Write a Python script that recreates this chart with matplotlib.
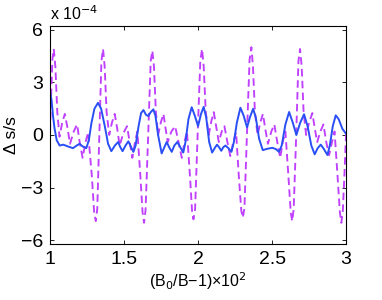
import matplotlib
matplotlib.use("Agg")
import matplotlib.pyplot as plt
import numpy as np

plt.rcParams["font.family"] = ["Liberation Sans", "DejaVu Sans"]

# solid curve (blue), values in units of 1e-4
blue_x = [1.000, 1.010, 1.020, 1.030, 1.045, 1.065, 1.090, 1.120, 1.155, 1.180,
          1.200, 1.220, 1.245, 1.262, 1.280, 1.300, 1.324, 1.345, 1.370, 1.392,
          1.414, 1.438, 1.460, 1.475, 1.490, 1.510, 1.529, 1.548, 1.563, 1.578,
          1.598, 1.615, 1.631, 1.648, 1.664, 1.680, 1.698, 1.712, 1.730, 1.754,
          1.772, 1.788, 1.805, 1.822, 1.840, 1.860, 1.880, 1.900, 1.915, 1.935,
          1.957, 1.978, 2.000, 2.020, 2.038, 2.055, 2.075, 2.095, 2.112, 2.128,
          2.142, 2.157, 2.170, 2.185, 2.205, 2.225, 2.242, 2.262, 2.286, 2.308,
          2.331, 2.350, 2.372, 2.390, 2.412, 2.437, 2.470, 2.502, 2.525, 2.547,
          2.565, 2.590, 2.615, 2.640, 2.664, 2.690, 2.716, 2.740, 2.765, 2.788,
          2.808, 2.829, 2.850, 2.874, 2.890, 2.910, 2.930, 2.950, 2.975, 3.000]
blue_y = [2.50, 2.00, 1.10, 0.40, -0.30, -0.60, -0.55, -0.65, -0.75, -0.60,
          -0.50, -0.65, -0.75, -0.30, 0.70, 1.50, 1.83, 1.50, 0.50, -0.50,
          -0.92, -0.60, -0.40, -0.70, -0.92, -0.60, -0.36, -0.70, -0.96, -0.60,
          0.50, 1.25, 1.42, 1.15, 1.08, 1.30, 1.46, 1.10, 0.00, -1.05,
          -0.70, -0.40, -0.70, -0.96, -0.60, -0.40, -0.70, -1.00, -0.40, 0.90,
          1.58, 1.10, 0.50, 1.20, 1.60, 1.00, -0.40, -1.00, -0.75, -0.55,
          -0.70, -0.90, -0.70, -0.60, -0.75, -0.96, -0.40, 0.70, 1.55, 1.10,
          0.43, 1.00, 1.49, 1.00, -0.20, -0.86, -0.78, -0.73, -0.80, -0.96,
          -0.60, 0.60, 1.31, 0.70, 0.00, 0.70, 1.18, 0.50, -0.60, -1.10,
          -0.75, -0.55, -0.80, -1.14, -0.60, 0.50, 1.12, 0.90, 0.35, 0.07]

# dashed curve (magenta), values in units of 1e-4
mag_x = [1.000, 1.008, 1.016, 1.025, 1.036, 1.049, 1.064, 1.082, 1.100, 1.118,
         1.135, 1.160, 1.183, 1.200, 1.220, 1.240, 1.257, 1.282, 1.298, 1.309,
         1.319, 1.333, 1.347, 1.358, 1.369, 1.382, 1.400, 1.418, 1.437, 1.455,
         1.470, 1.495, 1.520, 1.538, 1.556, 1.574, 1.590, 1.610, 1.625, 1.635,
         1.645, 1.663, 1.680, 1.691, 1.702, 1.715, 1.730, 1.748, 1.766, 1.780,
         1.795, 1.820, 1.845, 1.868, 1.890, 1.908, 1.925, 1.945, 1.960, 1.969,
         1.980, 1.997, 2.015, 2.027, 2.038, 2.052, 2.072, 2.090, 2.106, 2.124,
         2.140, 2.160, 2.178, 2.198, 2.218, 2.238, 2.257, 2.275, 2.292, 2.302,
         2.313, 2.330, 2.348, 2.360, 2.371, 2.384, 2.402, 2.420, 2.438, 2.455,
         2.472, 2.495, 2.515, 2.535, 2.555, 2.572, 2.590, 2.610, 2.626, 2.636,
         2.646, 2.663, 2.678, 2.689, 2.700, 2.713, 2.730, 2.750, 2.772, 2.790,
         2.805, 2.826, 2.847, 2.866, 2.885, 2.905, 2.922, 2.942, 2.958, 2.968,
         2.978, 2.990, 3.000]
mag_y = [0.20, 2.40, 4.30, 4.90, 3.90, 1.30, -0.10, 0.70, 1.20, 0.40,
         -0.50, 0.20, 0.60, -0.40, -1.30, -0.40, 0.15, -2.30, -4.40, -4.90,
         -4.20, 0.00, 4.20, 4.90, 3.90, 1.30, 0.00, 0.70, 1.20, 0.30,
         -0.60, 0.10, 0.50, -0.40, -1.30, -0.40, 0.20, -2.30, -4.40, -5.00,
         -4.30, 0.00, 4.20, 4.80, 3.90, 1.30, 0.00, 0.70, 1.20, 0.40,
         -0.40, 0.20, 0.50, -0.40, -1.30, -0.40, 0.20, -2.30, -4.40, -4.80,
         -4.20, 0.00, 4.20, 4.90, 3.90, 1.30, 0.00, 0.80, 1.30, 0.40,
         -0.40, 0.20, 0.50, -0.40, -1.20, -0.40, 0.15, -2.30, -4.30, -4.70,
         -4.20, 0.00, 4.30, 5.00, 3.90, 1.30, 0.00, 0.70, 1.20, 0.30,
         -0.50, 0.20, 0.60, -0.40, -1.30, -0.40, 0.20, -2.30, -4.40, -4.90,
         -4.20, 0.00, 4.20, 4.90, 3.90, 1.30, 0.00, 0.70, 1.25, 0.30,
         -0.40, 0.20, 0.60, -0.40, -1.15, -0.40, 0.20, -2.30, -4.40, -5.00,
         -4.30, -2.00, 0.10]

x_ticks = [1, 1.5, 2, 2.5, 3]
x_tick_labels = ["1", "1.5", "2", "2.5", "3"]
y_ticks = [-6, -3, 0, 3, 6]
y_tick_labels = ["\u22126", "\u22123", "0", "3", "6"]

fig = plt.figure(figsize=(3.82, 3.0), dpi=100)
ax = fig.add_axes([0.131, 0.187, 0.775, 0.726])

ax.plot(mag_x, mag_y, color="#c040ff", linestyle=(0, (4, 2.3)), linewidth=1.35)
ax.plot(blue_x, blue_y, color="#2a4ff5", linewidth=1.4)

ax.set_xlim(1, 3)
ax.set_ylim(-6.2, 6.2)
ax.set_xticks(x_ticks)
ax.set_xticklabels(x_tick_labels)
ax.set_yticks(y_ticks)
ax.set_yticklabels(y_tick_labels)
ax.tick_params(direction="in", length=3, width=0.6, top=True, right=True,
               labelsize=14, pad=5)
for sp in ax.spines.values():
    sp.set_linewidth(0.8)

ax.set_xlabel("(B$_0$/B\u22121)\u00d710$^2$", fontsize=11.5, labelpad=2)
ax.set_ylabel("\u0394 s/s", fontsize=12.5, labelpad=1)
fig.text(0.131, 0.925, "x 10$^{-4}$", fontsize=11.5, ha="left", va="bottom")

fig.savefig("out.png", dpi=100)
